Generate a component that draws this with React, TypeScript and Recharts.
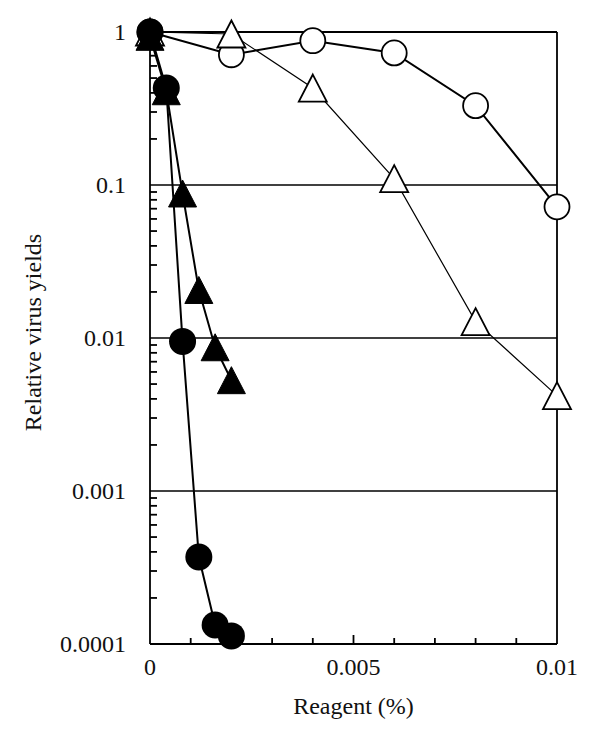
import React from 'react';
import { LineChart, Line, XAxis, YAxis, ReferenceLine } from 'recharts';

const xFilled = [0, 0.0004, 0.0008, 0.0012, 0.0016, 0.002];
const xOpen = [0, 0.002, 0.004, 0.006, 0.008, 0.01];
const filledCircleY = [1, 0.43, 0.0095, 0.00037, 0.000133, 0.000113];
const filledTriangleY = [0.93, 0.41, 0.088, 0.0206, 0.0087, 0.0053];
const openCircleY = [1, 0.71, 0.877, 0.73, 0.33, 0.072];
const openTriangleY = [1, 0.97, 0.43, 0.11, 0.0128, 0.0042];

const yMajorTicks = [0.0001, 0.001, 0.01, 0.1, 1];
const yMajorLabels = ['0.0001', '0.001', '0.01', '0.1', '1'];
const yMinorMultipliers = [2, 3, 4, 5, 6, 7, 8, 9];
const xTicks = [0, 0.001, 0.002, 0.003, 0.004, 0.005, 0.006, 0.007, 0.008, 0.009, 0.01];
const xLabeled = [0, 0.005, 0.01];
const xTickLabels = ['0', '0.005', '0.01'];
const gridValues = [0.1, 0.01, 0.001];

const FONT = '"Liberation Serif", "DejaVu Serif", serif';
const INK = '#111';
const FS = 24;

const yAllTicks: number[] = [];
for (let d = 0; d < 4; d++) {
  const base = yMajorTicks[d];
  yAllTicks.push(base);
  yMinorMultipliers.forEach((m) => yAllTicks.push(parseFloat((base * m).toPrecision(6))));
}
yAllTicks.push(1);

const toData = (xs: number[], ys: number[]) => xs.map((x, i) => ({ x, y: ys[i] }));

const YTick = (props: any) => {
  const { x, y, payload } = props;
  const v = payload.value;
  const axisX = x + 24;
  const idx = yMajorTicks.findIndex((m) => Math.abs(m - v) / m < 1e-6);
  if (idx >= 0) {
    return (
      <text x={x} y={y + 8} textAnchor="end" fontFamily={FONT} fontSize={FS} fill={INK}>
        {yMajorLabels[idx]}
      </text>
    );
  }
  return <line x1={axisX} x2={axisX + 7} y1={y} y2={y} stroke="#000" strokeWidth={1.8} />;
};

const XTick = (props: any) => {
  const { x, y, payload } = props;
  const v = payload.value;
  const idx = xLabeled.findIndex((m) => Math.abs(m - v) < 1e-9);
  const isEdge = Math.abs(v) < 1e-9 || Math.abs(v - 0.01) < 1e-9;
  const len = Math.abs(v - 0.005) < 1e-9 ? 9 : 6;
  return (
    <g>
      {!isEdge && <line x1={x} x2={x} y1={y} y2={y - len} stroke="#000" strokeWidth={1.8} />}
      {idx >= 0 && (
        <text x={x} y={y + 31} textAnchor="middle" fontFamily={FONT} fontSize={FS} fill={INK}>
          {xTickLabels[idx]}
        </text>
      )}
    </g>
  );
};

const makeDot = (kind: string) => (p: any) => {
  const { cx, cy, index } = p;
  const key = `${kind}-${index}`;
  if (cx == null || cy == null) return <g key={key} />;
  if (kind === 'fc') return <circle key={key} cx={cx} cy={cy} r={13.5} fill="#000" />;
  if (kind === 'oc')
    return <circle key={key} cx={cx} cy={cy} r={12.5} fill="#fff" stroke="#000" strokeWidth={1.8} />;
  const hw = 14;
  const hh = 13.5;
  const d = `M${cx},${cy - hh} L${cx + hw},${cy + hh} L${cx - hw},${cy + hh} Z`;
  if (kind === 'ft') return <path key={key} d={d} fill="#000" stroke="#000" strokeWidth={1} />;
  return <path key={key} d={d} fill="#fff" stroke="#000" strokeWidth={1.8} strokeLinejoin="miter" />;
};

export default function App() {
  return (
    <LineChart width={592} height={731} margin={{ top: 24, right: 43, left: 0, bottom: 0 }}>
      <XAxis
        dataKey="x"
        type="number"
        domain={[0, 0.01]}
        ticks={xTicks}
        interval={0}
        tick={<XTick />}
        tickLine={false}
        tickSize={0}
        tickMargin={0}
        height={95}
        axisLine={{ stroke: '#000', strokeWidth: 1.8 }}
        allowDuplicatedCategory={false}
        label={{
          content: () => (
            <text x={345.5} y={706} textAnchor="middle" fontFamily={FONT} fontSize={FS} fill={INK}>
              Reagent (%)
            </text>
          ),
        }}
      />
      <YAxis
        type="number"
        scale="log"
        domain={[0.0001, 1]}
        ticks={yAllTicks}
        interval={0}
        tick={<YTick />}
        tickLine={false}
        tickSize={0}
        tickMargin={24}
        width={142}
        axisLine={{ stroke: '#000', strokeWidth: 1.8 }}
        label={{
          content: () => (
            <text
              x={33}
              y={324.5}
              transform="rotate(-90 33 324.5)"
              textAnchor="middle"
              fontFamily={FONT}
              fontSize={FS}
              fill={INK}
            >
              Relative virus yields
            </text>
          ),
        }}
      />
      {gridValues.map((g) => (
        <ReferenceLine key={`g${g}`} y={g} stroke="#000" strokeWidth={1.6} />
      ))}
      <ReferenceLine y={1} stroke="#000" strokeWidth={1.8} />
      <ReferenceLine x={0.01} stroke="#000" strokeWidth={1.8} />
      <Line
        data={toData(xOpen, openCircleY)}
        dataKey="y"
        type="linear"
        stroke="#000"
        strokeWidth={2}
        dot={makeDot('oc')}
        activeDot={false}
        isAnimationActive={false}
      />
      <Line
        data={toData(xOpen, openTriangleY)}
        dataKey="y"
        type="linear"
        stroke="#000"
        strokeWidth={1.2}
        dot={makeDot('ot')}
        activeDot={false}
        isAnimationActive={false}
      />
      <Line
        data={toData(xFilled, filledTriangleY)}
        dataKey="y"
        type="linear"
        stroke="#000"
        strokeWidth={2}
        dot={makeDot('ft')}
        activeDot={false}
        isAnimationActive={false}
      />
      <Line
        data={toData(xFilled, filledCircleY)}
        dataKey="y"
        type="linear"
        stroke="#000"
        strokeWidth={2}
        dot={makeDot('fc')}
        activeDot={false}
        isAnimationActive={false}
      />
    </LineChart>
  );
}
